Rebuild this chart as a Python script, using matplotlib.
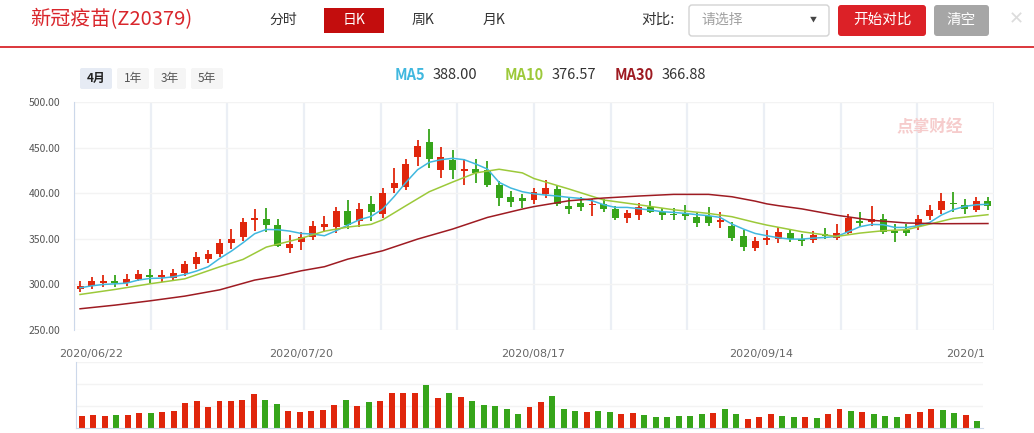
import matplotlib
matplotlib.use('Agg')
import matplotlib.pyplot as plt
from matplotlib.patches import FancyBboxPatch
from matplotlib.lines import Line2D
from matplotlib.transforms import IdentityTransform
import numpy as np

W, H = 1034, 433

# daily K data
opens = [294.9, 298.2, 301.1, 303.3, 301.8, 305.5, 309.9, 307.7, 306.6, 312.1,
         322.0, 327.5, 333.0, 345.1, 351.6, 370.3, 371.4, 364.8, 339.6, 346.5,
         352.0, 363.0, 363.0, 380.6, 369.6, 388.3, 377.3, 405.9, 407.0, 439.9,
         456.4, 425.6, 436.6, 424.5, 426.7, 425.6, 409.2, 396.0, 394.6, 393.0,
         399.3, 404.8, 386.1, 389.4, 387.2, 388.3, 382.8, 372.9, 376.2, 385.0,
         379.5, 377.3, 377.3, 374.0, 375.1, 368.5, 364.1, 353.1, 339.9, 348.7,
         349.8, 356.4, 349.8, 348.7, 355.3, 350.9, 356.4, 369.6, 368.5, 371.8,
         358.6, 359.7, 364.1, 375.1, 381.7, 389.4, 387.2, 381.7, 391.6]
highs = [303.3, 307.7, 309.9, 309.9, 311.0, 315.4, 316.5, 315.4, 316.5, 325.3,
         335.2, 337.4, 349.5, 360.4, 372.5, 382.4, 383.5, 371.4, 353.8, 358.0,
         369.6, 375.1, 385.0, 392.7, 389.4, 397.1, 405.9, 427.8, 437.7, 458.6,
         470.7, 450.9, 447.6, 437.7, 437.7, 435.5, 413.6, 402.6, 399.0, 405.9,
         414.7, 409.2, 396.0, 396.0, 393.8, 393.8, 386.1, 381.7, 389.4, 391.6,
         383.9, 383.9, 387.2, 378.4, 385.0, 379.5, 368.5, 359.7, 352.0, 359.7,
         363.0, 360.8, 355.3, 358.6, 361.9, 366.3, 377.3, 379.5, 386.1, 377.3,
         366.3, 366.3, 376.2, 387.2, 400.4, 401.5, 393.8, 396.0, 396.0]
lows = [291.6, 294.5, 296.7, 296.7, 297.8, 303.3, 301.1, 302.2, 303.3, 308.8,
        316.5, 323.1, 329.7, 338.5, 347.3, 358.2, 357.1, 340.7, 334.1, 338.0,
        349.1, 357.5, 356.4, 360.8, 363.0, 369.6, 372.9, 400.4, 403.7, 430.0,
        427.8, 416.8, 415.8, 409.2, 411.4, 407.0, 386.1, 385.0, 383.6, 388.8,
        394.9, 386.1, 377.3, 380.6, 375.1, 379.5, 370.7, 367.4, 370.7, 378.4,
        370.7, 370.7, 370.7, 363.0, 364.1, 361.9, 347.6, 336.6, 336.6, 343.2,
        345.4, 346.5, 342.1, 345.4, 349.8, 348.7, 355.3, 363.0, 364.1, 355.3,
        346.5, 353.1, 359.7, 370.7, 377.3, 379.5, 377.3, 379.5, 381.7]
closes = [297.8, 303.3, 303.3, 301.1, 305.5, 311.0, 307.7, 309.9, 312.1, 322.0,
          329.7, 333.0, 345.1, 349.5, 368.1, 372.5, 364.8, 341.8, 344.0, 351.8,
          364.1, 366.3, 380.6, 365.2, 382.8, 379.5, 400.4, 411.4, 432.2, 452.0,
          437.7, 439.9, 425.6, 426.7, 422.3, 409.2, 394.9, 390.5, 391.3, 401.5,
          405.9, 388.3, 382.8, 385.0, 388.3, 382.8, 372.9, 378.4, 385.0, 379.5,
          376.2, 376.2, 375.1, 367.4, 367.4, 370.7, 350.9, 341.0, 347.6, 350.9,
          357.5, 349.8, 347.6, 354.2, 353.1, 356.4, 372.9, 367.4, 371.8, 357.5,
          356.4, 356.4, 371.8, 381.7, 391.6, 388.3, 382.8, 391.6, 386.1]
volumes = [12, 13, 12, 13, 13, 15, 15, 16, 17, 25, 27, 21, 27, 27, 28, 34, 28, 24, 17, 16,
           17, 18, 23, 28, 22, 26, 27, 35, 35, 35, 43, 30, 35, 31, 27, 23, 22, 19, 14, 21,
           26, 32, 19, 17, 16, 17, 16, 14, 15, 13, 11, 11, 12, 12, 14, 15, 19, 14, 9, 11,
           14, 12, 11, 11, 10, 14, 19, 17, 16, 14, 12, 11, 14, 16, 19, 18, 15, 13, 7]

ma5 = [296.3, 298.5, 300.0, 300.7, 301.5, 304.8, 306.6, 307.0, 308.4, 311.0,
       314.7, 319.4, 328.6, 336.6, 345.8, 355.7, 360.4, 360.1, 358.6, 356.0,
       355.3, 353.5, 359.0, 365.2, 371.1, 374.7, 382.8, 396.7, 412.1, 426.0,
       434.1, 437.0, 438.5, 437.0, 432.2, 426.7, 412.1, 405.9, 401.8, 399.5,
       398.2, 397.1, 395.6, 394.5, 391.9, 387.5, 384.6, 384.6, 383.2, 381.7,
       379.9, 379.1, 378.0, 376.6, 375.5, 373.6, 366.3, 360.8, 356.0, 353.5,
       351.3, 349.8, 349.8, 350.9, 351.6, 352.7, 357.9, 363.4, 365.9, 365.6,
       362.6, 362.6, 364.5, 368.1, 376.2, 382.0, 385.7, 387.5, 388.0]
ma10_day = [1, 4, 7, 10, 13, 15, 17, 20, 22, 24, 26, 27, 29, 31, 33, 35, 37, 39, 40,
            43, 46, 49, 52, 55, 57, 59, 60, 63, 66, 68, 70, 72, 74, 76, 79]
ma10 = [289.0, 294.5, 300.7, 306.2, 319.4, 327.5, 341.0, 350.7, 358.5, 363.0, 366.0,
        371.0, 386.5, 401.8, 412.4, 422.5, 426.5, 422.5, 416.3, 404.8, 392.7, 387.5,
        382.0, 378.0, 374.4, 368.1, 365.2, 357.9, 352.7, 356.4, 359.0, 360.1, 366.3,
        372.5, 376.6]
ma30_day = [1, 4, 7, 10, 13, 16, 18, 20, 22, 24, 27, 30, 33, 36, 39, 40, 43, 46,
            49, 52, 55, 57, 59, 60, 61, 63, 66, 69, 72, 75, 79]
ma30 = [273.3, 277.3, 282.0, 287.2, 294.1, 304.8, 309.2, 315.0, 319.5, 327.8, 337.0,
        349.8, 360.8, 373.6, 382.8, 385.5, 391.9, 394.9, 397.1, 398.9, 398.9, 396.3,
        391.5, 388.5, 386.5, 383.0, 376.0, 370.5, 367.5, 366.7, 366.9]

price_ticks = [250, 300, 350, 400, 450, 500]
date_labels = ['2020/06/22', '2020/07/20', '2020/08/17', '2020/09/14', '2020/1']
tabs = ['分时', '日K', '周K', '月K']
ranges = ['4月', '1年', '3年', '5年']
ma_names = ['MA5', 'MA10', 'MA30']
ma_last = ['388.00', '376.57', '366.88']

RED = '#e0260c'
GREEN = '#36a51a'
MA_COLORS = ['#40b8df', '#9cc93a', '#9e1b22']

plt.rcParams['font.family'] = ['Noto Sans CJK SC', 'DejaVu Sans']

fig = plt.figure(figsize=(W / 100, H / 100), dpi=100)
fig.patch.set_facecolor('white')


def ftext(x, y, s, **kw):
    """text placed in pixel coordinates (origin top left)"""
    kw.setdefault('va', 'center')
    return fig.text(x / W, 1 - y / H, s, **kw)


def fbox(x0, y0, x1, y1, fc, ec='none', r=3):
    p = FancyBboxPatch((x0, H - y1), x1 - x0, y1 - y0,
                       boxstyle='round,pad=0,rounding_size=%g' % r,
                       fc=fc, ec=ec, lw=1, transform=IdentityTransform())
    fig.add_artist(p)


# ---- header ----
ftext(30, 20, '新冠疫苗(Z20379)', color='#d9262c', fontsize=14.5)
tab_x = [283, 354, 423, 494]
fbox(324, 8, 384, 33, '#c30d0d', r=0)
for name, x in zip(tabs, tab_x):
    ftext(x, 20, name, ha='center', fontsize=10,
          color='white' if name == '日K' else '#333333')

ftext(658, 20, '对比:', ha='center', fontsize=10.5, color='#333333')
fbox(689, 5, 829, 36, 'white', ec='#d3d3d3', r=3)
ftext(701, 20, '请选择', fontsize=10, color='#a0a0a0')
ftext(813, 20, '▼', ha='center', fontsize=5, color='#444444')
fbox(838, 5, 926, 36, '#dc2127', r=3)
ftext(882, 20, '开始对比', ha='center', fontsize=10.5, color='white')
fbox(934, 5, 989, 36, '#a6a6a6', r=3)
ftext(961.5, 20, '清空', ha='center', fontsize=10.5, color='white')
ftext(1016, 19, '✕', ha='center', fontsize=13, color='#dcdcdc')
fig.add_artist(Line2D([0, 1], [1 - 47 / H, 1 - 47 / H], color='#d9262c', lw=1.3,
                      transform=fig.transFigure))

# ---- range buttons + MA legend ----
range_x = [80, 117, 154, 191]
for name, x in zip(ranges, range_x):
    first = name == '4月'
    fbox(x, 68, x + 32, 89, '#e6ebf4' if first else '#f5f5f5', r=2)
    ftext(x + 16, 78.5, name, ha='center', fontsize=8.5,
          color='#222222' if first else '#555555',
          fontweight='bold' if first else 'normal')

ma_name_x = [395, 505, 615]
ma_val_x = [433, 552, 662]
for name, val, c, xn, xv in zip(ma_names, ma_last, MA_COLORS, ma_name_x, ma_val_x):
    ftext(xn, 75, name, fontsize=10.5, color=c, fontweight='bold')
    ftext(xv, 75, val, fontsize=10.5, color='#333333')

# ---- candles ----
n = len(closes)
idx = np.arange(n)
o = np.array(opens)
c = np.array(closes)
up = c >= o
cols = [RED if u else GREEN for u in up]

ax = fig.add_axes([74 / W, (H - 330) / H, (994 - 74) / W, (330 - 102.3) / H])
ax.set_xlim(-0.52, n - 0.48)
ax.set_ylim(250, 500)
span = n + 0.04
for k in range(13):
    ax.axvline(-0.52 + k * span / 12, color='#ebeff5', lw=1.6, zorder=0)
for t in price_ticks:
    ax.axhline(t, color='#f3f3f3', lw=1, zorder=0)

ax.vlines(idx, lows, highs, colors=cols, lw=1.3, zorder=2)
ax.bar(idx, np.maximum(np.abs(c - o), 1.0), bottom=np.minimum(o, c),
       width=0.6, color=cols, zorder=3)

ax.plot(idx, ma5, color=MA_COLORS[0], lw=1.1, zorder=4)
ax.plot(np.array(ma10_day) - 1, ma10, color=MA_COLORS[1], lw=1.1, zorder=4)
ax.plot(np.array(ma30_day) - 1, ma30, color=MA_COLORS[2], lw=1.1, zorder=4)

ax.set_yticks(price_ticks)
ax.set_yticklabels(['%.2f' % t for t in price_ticks], fontsize=7.5, color='#555555')
ax.tick_params(axis='y', length=0, pad=10)
ax.set_xticks([])
for s in ['top', 'right', 'bottom']:
    ax.spines[s].set_visible(False)
ax.spines['left'].set_color('#ccd8ea')

# watermark
ftext(930, 127, '点掌财经', ha='center', fontsize=12, color='#f6cccc',
      fontweight='bold')

# ---- date labels ----
date_x = [91, 301, 533, 761, 946]
for lab, x in zip(date_labels, date_x):
    ftext(x, 354, lab, ha='left' if lab == '2020/1' else 'center',
          fontsize=8, color='#666666', family='DejaVu Sans')

# ---- volume ----
vax = fig.add_axes([76 / W, (H - 428.3) / H, (983 - 76) / W, (428.3 - 362) / H])
vax.set_xlim(-0.5, n - 0.5)
vax.set_ylim(0, 66)
for t in [22, 44, 66]:
    vax.axhline(t, color='#f3f3f3', lw=1, zorder=0)
vax.bar(idx, volumes, width=0.52, color=cols, zorder=2)
vax.set_xticks([])
vax.set_yticks([])
for s in ['top', 'right']:
    vax.spines[s].set_visible(False)
vax.spines['left'].set_color('#ccd8ea')
vax.spines['bottom'].set_color('#ccd8ea')

fig.savefig('out.png', dpi=100, facecolor='white')
